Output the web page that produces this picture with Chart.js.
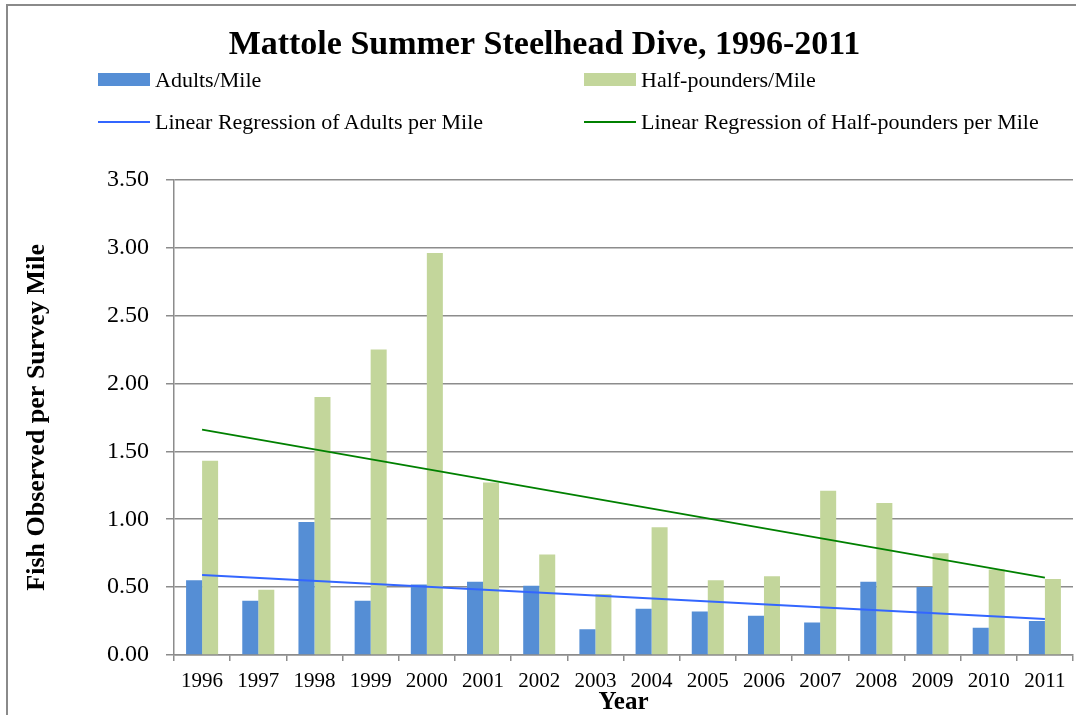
<!DOCTYPE html>
<html>
<head>
<meta charset="utf-8">
<script src="https://cdn.jsdelivr.net/npm/chart.js@4"></script>
<style>
  html, body { margin: 0; padding: 0; background: #fff; }
  #wrap { position: relative; width: 1076px; height: 715px; overflow: hidden; }
  #frame { position: absolute; left: 6px; top: 4px; width: 1100px; height: 800px;
           border-left: 2px solid #8a8a8a; border-top: 2px solid #8a8a8a; }
  .lg { position: absolute; font-family: 'Liberation Serif', serif; font-size: 22px; color: #000;
        line-height: 22px; white-space: nowrap; }
  .sw { position: absolute; }
</style>
</head>
<body>
<div id="wrap">
  <div id="frame"></div>
  <canvas id="myChart" width="1076" height="715"></canvas>
  <div class="sw" style="left:98px;top:73px;width:52px;height:13px;background:#558ed5"></div>
  <div class="lg" style="left:155px;top:69px">Adults/Mile</div>
  <div class="sw" style="left:584px;top:73px;width:52px;height:13px;background:#c3d69b"></div>
  <div class="lg" style="left:641px;top:69px">Half-pounders/Mile</div>
  <div class="sw" style="left:98px;top:121px;width:52px;height:2px;background:#3366ff"></div>
  <div class="lg" style="left:155px;top:111px">Linear Regression of Adults per Mile</div>
  <div class="sw" style="left:584px;top:121px;width:52px;height:2px;background:#008000"></div>
  <div class="lg" style="left:641px;top:111px">Linear Regression of Half-pounders per Mile</div>
</div>
<script>
// values
var years = ['1996', '1997', '1998', '1999', '2000', '2001', '2002', '2003',
             '2004', '2005', '2006', '2007', '2008', '2009', '2010', '2011'];
var adults = [0.55, 0.40, 0.98, 0.40, 0.52, 0.54, 0.51, 0.19,
              0.34, 0.32, 0.29, 0.24, 0.54, 0.50, 0.20, 0.25];
var halfPounders = [1.43, 0.48, 1.90, 2.25, 2.96, 1.27, 0.74, 0.45,
                    0.94, 0.55, 0.58, 1.21, 1.12, 0.75, 0.63, 0.56];
// trend lines: only the two end values, joined straight
var adultsTrend = [0.59, null, null, null, null, null, null, null,
                   null, null, null, null, null, null, null, 0.265];
var halfTrend = [1.66, null, null, null, null, null, null, null,
                 null, null, null, null, null, null, null, 0.57];
var yTicks = [0, 0.5, 1, 1.5, 2, 2.5, 3, 3.5];

var serif = "'Liberation Serif', 'Times New Roman', serif";
var gridGray = '#8c8c8c';

var ctx = document.getElementById('myChart').getContext('2d');

var myChart = new Chart(ctx, {
    type: 'bar',
    data: {
        labels: years,
        datasets: [{
            type: 'line',
            label: 'Linear Regression of Adults per Mile',
            data: adultsTrend,
            borderColor: '#3366ff',
            borderWidth: 2,
            pointRadius: 0,
            spanGaps: true,
            order: 0
        }, {
            type: 'line',
            label: 'Linear Regression of Half-pounders per Mile',
            data: halfTrend,
            borderColor: '#008000',
            borderWidth: 2,
            pointRadius: 0,
            spanGaps: true,
            order: 0
        }, {
            label: 'Adults/Mile',
            data: adults,
            backgroundColor: '#558ed5',
            categoryPercentage: 0.57,
            barPercentage: 1.0,
            order: 1
        }, {
            label: 'Half-pounders/Mile',
            data: halfPounders,
            backgroundColor: '#c3d69b',
            categoryPercentage: 0.57,
            barPercentage: 1.0,
            order: 1
        }]
    },
    options: {
        responsive: false,
        animation: false,
        layout: {
            padding: { left: 16, right: 3, top: 10, bottom: 0 }
        },
        plugins: {
            title: {
                display: true,
                text: 'Mattole Summer Steelhead Dive, 1996-2011',
                color: '#000',
                font: { family: serif, size: 34, weight: 'bold', lineHeight: 1.2 },
                padding: { top: 15, bottom: 114 }
            },
            legend: { display: false },
            tooltip: { enabled: false }
        },
        scales: {
            x: {
                grid: {
                    offset: true,
                    drawOnChartArea: false,
                    drawTicks: true,
                    tickLength: 6,
                    color: gridGray,
                    lineWidth: 1.5
                },
                border: { color: gridGray, width: 1.5 },
                ticks: {
                    color: '#000',
                    font: { family: serif, size: 21 },
                    padding: 8,
                    maxRotation: 0,
                    autoSkip: false
                },
                title: {
                    display: true,
                    text: 'Year',
                    color: '#000',
                    font: { family: serif, size: 25, weight: 'bold', lineHeight: 1 },
                    padding: { top: 0, bottom: 0 }
                },
                afterFit: function (scale) { scale.height = 60; }
            },
            y: {
                min: 0,
                max: 3.5,
                afterBuildTicks: function (scale) {
                    scale.ticks = yTicks.map(function (v) { return { value: v }; });
                },
                grid: {
                    color: gridGray,
                    lineWidth: 1.5,
                    tickLength: 8
                },
                border: { color: gridGray, width: 1.5 },
                ticks: {
                    color: '#000',
                    font: { family: serif, size: 24 },
                    padding: 17,
                    callback: function (v) { return Number(v).toFixed(2); }
                },
                title: {
                    display: true,
                    text: 'Fish Observed per Survey Mile',
                    color: '#000',
                    font: { family: serif, size: 26, weight: 'bold', lineHeight: 1.2 },
                    padding: { top: 6, bottom: 0 }
                },
                afterFit: function (scale) { scale.width = 158; }
            }
        }
    }
});
</script>
</body>
</html>
